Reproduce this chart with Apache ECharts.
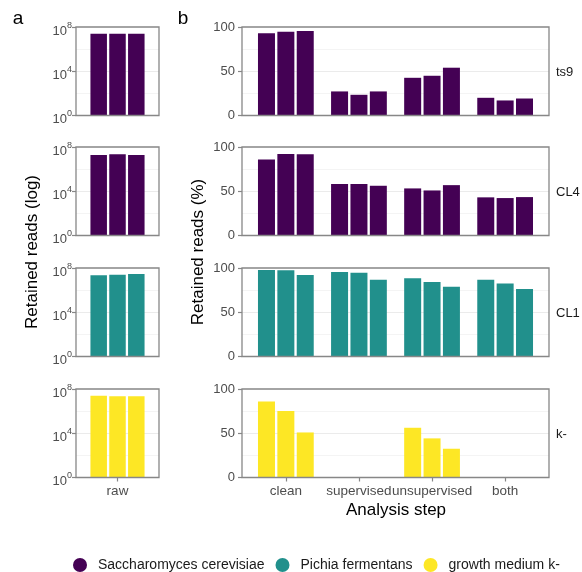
<!DOCTYPE html>
<html>
<head>
<meta charset="utf-8">
<script src="https://cdn.jsdelivr.net/npm/echarts@6/dist/echarts.min.js"></script>
<style>
  html, body { margin: 0; padding: 0; background: #fff; }
  #chart { width: 582px; height: 572px; }
</style>
</head>
<body>
<div id="chart"></div>
<script>
const steps = ['clean', 'supervised', 'unsupervised', 'both'];
const rawStep = ['raw'];
const strains = ['ts9', 'CL4', 'CL1', 'k-'];
const rowOrganism = ['Saccharomyces cerevisiae', 'Saccharomyces cerevisiae', 'Pichia fermentans', 'growth medium k-'];
const legendNames = ['Saccharomyces cerevisiae', 'Pichia fermentans', 'growth medium k-'];
const legendColors = ['#440154', '#21908C', '#FDE725'];

// raw read counts, three replicates per strain
const rawTs9 = [2.5e7, 2.5e7, 2.5e7];
const rawCL4 = [1.9e7, 2.2e7, 1.9e7];
const rawCL1 = [2.2e7, 2.5e7, 2.9e7];
const rawK = [2.5e7, 2.2e7, 2.2e7];

// retained reads (%) per analysis step, three replicates each
const pctTs9 = [[92.8, 94.7, 95.5], [27.2, 23.4, 27.2], [42.6, 44.9, 54.0], [20.0, 17.0, 19.2]];
const pctCL4 = [[85.8, 92.1, 91.8], [58.1, 58.1, 56.2], [53.2, 50.9, 56.9], [43.1, 42.3, 43.4]];
const pctCL1 = [[97.7, 97.4, 92.1], [95.5, 94.7, 86.8], [88.3, 84.2, 78.9], [86.8, 82.6, 76.2]];
const pctK = [[86.0, 75.1, 50.9], [null, null, null], [56.2, 44.2, 32.5], [null, null, null]];

const logTicks = [0, 4, 8];      // exponents of 10
const pctTicks = [0, 50, 100];

const rawRows = [rawTs9, rawCL4, rawCL1, rawK];
const pctRows = [pctTs9, pctCL4, pctCL1, pctK];

const FONT = 'Liberation Sans, Arial, sans-serif';
const rowTop = [27, 147, 268, 389];
const rowH = 88.5;
const panels = [
    { left: 76, width: 83, cats: rawStep, log: true, barWidth: 16.5, margin: 4 },
    { left: 242, width: 307, cats: steps, log: false, barWidth: 17, margin: 7 }
];
const expand = 0.6; // ggplot discrete axis padding

var colorOf = (name) => legendColors[legendNames.indexOf(name)];

var grids = [], xAxes = [], yAxes = [], series = [], graphics = [];

rowTop.forEach((top, r) => {
    var last = r === rowTop.length - 1;
    panels.forEach((p, pi) => {
        // frame grid: border + y axis with gridlines across the panel
        var fg = grids.length;
        grids.push({ left: p.left, top: top, width: p.width, height: rowH, show: true, z: 3,
            borderColor: '#878787', borderWidth: 1.3, backgroundColor: 'transparent', outerBoundsMode: 'none' });
        xAxes.push({ gridIndex: fg, type: 'value', show: false, min: 0, max: 1 });
        var ticks = p.log ? logTicks : pctTicks;
        yAxes.push({
            gridIndex: fg, type: 'value', min: ticks[0], max: ticks[ticks.length - 1],
            interval: ticks[1] - ticks[0],
            axisLine: { show: false },
            axisTick: { show: true, length: 4, lineStyle: { color: '#878787', width: 1.2 } },
            axisLabel: {
                margin: p.margin, color: '#4d4d4d', fontFamily: FONT, fontSize: 13,
                padding: p.log ? [8, 0, 0, 0] : 0,
                formatter: p.log ? (v) => '{b|10}{s|' + v + '}' : (v) => String(v),
                rich: {
                    b: { fontSize: 13, lineHeight: 20, color: '#4d4d4d', fontFamily: FONT },
                    s: { fontSize: 9, lineHeight: 9, verticalAlign: 'top', color: '#4d4d4d', fontFamily: FONT }
                }
            },
            splitLine: { show: true, showMinLine: false, showMaxLine: false, lineStyle: { color: '#ebebeb', width: 1 } },
            minorTick: { show: false, splitNumber: 2 },
            minorSplitLine: { show: true, lineStyle: { color: '#f4f4f4', width: 1 } }
        });

        // bar grid: category band sized like ggplot's expanded discrete scale
        var bg = grids.length;
        var unit = p.width / (p.cats.length - 1 + 2 * expand);
        grids.push({ left: p.left + (expand - 0.5) * unit, top: top, width: p.cats.length * unit, height: rowH,
            show: false, outerBoundsMode: 'none' });
        xAxes.push({
            gridIndex: bg, type: 'category', data: p.cats,
            axisLine: { show: false },
            axisTick: { show: last, alignWithLabel: true, length: 4, lineStyle: { color: '#878787', width: 1.2 } },
            axisLabel: { show: last, color: '#4d4d4d', fontFamily: FONT, fontSize: 13.5, margin: 7, interval: 0 }
        });
        yAxes.push(p.log
            ? { gridIndex: bg, type: 'log', logBase: 10, min: Math.pow(10, logTicks[0]), max: Math.pow(10, logTicks[2]), show: false }
            : { gridIndex: bg, type: 'value', min: pctTicks[0], max: pctTicks[2], show: false });

        for (var k = 0; k < 3; k++) {
            var data = p.log ? [rawRows[r][k]] : pctRows[r].map(s => s[k]);
            series.push({
                type: 'bar', name: rowOrganism[r], xAxisIndex: bg, yAxisIndex: bg,
                data: data, barWidth: p.barWidth, barGap: '14%',
                itemStyle: { color: colorOf(rowOrganism[r]) },
                emphasis: { disabled: true }
            });
        }
    });

    // strip label on the right
    graphics.push({ type: 'text', x: 556, y: top + rowH / 2 + 1,
        style: { text: strains[r], fill: '#1a1a1a', font: '13px ' + FONT, align: 'left', verticalAlign: 'middle' } });
});

graphics.push(
    { type: 'text', x: 18, y: 19, style: { text: 'a', fill: '#000', font: '19px ' + FONT, align: 'center', verticalAlign: 'middle' } },
    { type: 'text', x: 183, y: 19, style: { text: 'b', fill: '#000', font: '19px ' + FONT, align: 'center', verticalAlign: 'middle' } },
    { type: 'text', x: 32, y: 252, rotation: Math.PI / 2,
        style: { text: 'Retained reads (log)', fill: '#000', font: '17px ' + FONT, align: 'center', verticalAlign: 'middle' } },
    { type: 'text', x: 198, y: 252, rotation: Math.PI / 2,
        style: { text: 'Retained reads (%)', fill: '#000', font: '17px ' + FONT, align: 'center', verticalAlign: 'middle' } },
    { type: 'text', x: 396, y: 510,
        style: { text: 'Analysis step', fill: '#000', font: '17px ' + FONT, align: 'center', verticalAlign: 'middle' } }
);

var chart = echarts.init(document.getElementById('chart'));
chart.setOption({
    animation: false,
    backgroundColor: '#fff',
    textStyle: { fontFamily: FONT },
    legend: {
        data: legendNames, left: 68, top: 553, icon: 'circle', itemWidth: 14, itemHeight: 14, itemGap: 11,
        selectedMode: false,
        textStyle: { color: '#1a1a1a', fontSize: 14, fontFamily: FONT, padding: [0, 0, 0, 6] }
    },
    grid: grids,
    xAxis: xAxes,
    yAxis: yAxes,
    series: series,
    graphic: graphics
});
</script>
</body>
</html>
